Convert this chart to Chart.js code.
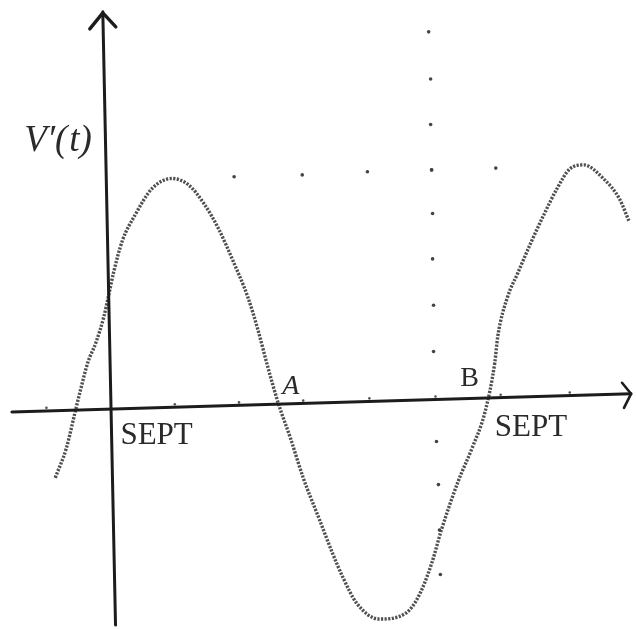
<!DOCTYPE html>
<html>
<head>
<meta charset="utf-8">
<script src="https://cdn.jsdelivr.net/npm/chart.js@4"></script>
<style>
  html, body { margin: 0; padding: 0; background: #fff; }
  #wrap { width: 636px; height: 629px; }
</style>
</head>
<body>
<div id="wrap"><canvas id="rateChart" width="636" height="629"></canvas></div>
<script>
// V'(t): months after September (x) against rate of change (y)
const curveMonths = [-1.67, -1.33, -1.06, -0.91, -0.67, -0.42, -0.18, -0.03, 0.12, 0.39, 0.79, 1.30,
    1.91, 2.42, 2.91, 3.33, 3.82, 4.24, 4.55, 4.85, 5.18, 5.55, 5.94, 6.45, 6.85, 7.15, 7.58,
    8.27, 9.09, 9.48, 9.88, 10.18, 10.70, 11.12, 11.52, 11.82, 11.91, 12.21, 12.52, 12.91,
    13.33, 13.73, 14.12, 14.55, 15.15, 15.64, 15.94];
const curveValues = [-1.52, -0.87, -0.07, 0.37, 1.02, 1.46, 2.02, 2.50, 3.00, 3.70, 4.28, 4.85,
    5.07, 4.93, 4.50, 3.98, 3.20, 2.46, 1.74, 0.93, 0.11, -0.65, -1.52, -2.46, -3.20, -3.70, -4.28,
    -4.63, -4.50, -4.13, -3.41, -2.67, -1.59, -0.87, -0.07, 1.02, 1.59, 2.46, 2.98, 3.63,
    4.28, 4.85, 5.28, 5.37, 5.07, 4.63, 4.13];

// dotted guide across the top at the peak level
const guideRowMonths = [3.82, 5.91, 7.91, 9.88, 11.85];
const guideRowValues = [5.11, 5.15, 5.22, 5.26, 5.30];
// dotted guide running down through month 10
const guideColMonths = [9.79, 9.85, 9.85, 9.88, 9.91, 9.91, 9.94, 9.94, 10.03, 10.09, 10.12, 10.15];
const guideColValues = [8.30, 7.26, 6.26, 5.26, 4.30, 3.30, 2.28, 1.26, -0.72, -1.67, -2.67, -3.65];
// small tick marks sitting on the time axis
const tickMonths = [-1.94, 2.0, 3.97, 5.94, 7.97, 10.0, 12.0, 14.12];
const tickValues = [0.02, 0.10, 0.14, 0.18, 0.23, 0.27, 0.31, 0.36];

const toPoints = (xs, ys) => xs.map((x, i) => ({ x: x, y: ys[i] }));

const ink = '#1c1c1c';
const serif = '"Liberation Serif", "DejaVu Serif", serif';

// hand-drawn looking axes with arrow heads, plus the text labels
const sketchAxes = {
    id: 'sketchAxes',
    afterDatasetsDraw(chart) {
        const { ctx, scales: { x, y } } = chart;
        const px = v => x.getPixelForValue(v);
        const py = v => y.getPixelForValue(v);
        ctx.save();
        ctx.strokeStyle = ink;
        ctx.lineCap = 'round';
        ctx.lineJoin = 'round';

        // time axis
        ctx.lineWidth = 3;
        ctx.beginPath();
        ctx.moveTo(px(-3.0), py(-0.07));
        ctx.lineTo(px(16.0), py(0.33));
        ctx.stroke();
        // arrow head on the right
        const tx = px(16.0), ty = py(0.33);
        ctx.lineWidth = 2.6;
        ctx.beginPath();
        ctx.moveTo(tx - 9, ty - 11);
        ctx.lineTo(tx, ty);
        ctx.lineTo(tx - 7, ty + 14);
        ctx.stroke();

        // value axis
        ctx.lineWidth = 3;
        ctx.beginPath();
        ctx.moveTo(px(0.18), py(-4.76));
        ctx.lineTo(px(-0.21), py(8.74));
        ctx.stroke();
        const ax = px(-0.21), ay = py(8.74);
        ctx.lineWidth = 3.4;
        ctx.beginPath();
        ctx.moveTo(ax - 13, ay + 17);
        ctx.lineTo(ax, ay + 1);
        ctx.lineTo(ax + 13, ay + 15);
        ctx.stroke();

        // labels
        ctx.fillStyle = '#2a2a2a';
        ctx.textBaseline = 'alphabetic';
        ctx.font = 'italic 37px ' + serif;
        ctx.fillText('V\u2032(', px(-2.62), py(5.68));
        const vw = ctx.measureText('V\u2032(').width;
        ctx.fillText('t)', px(-2.62) + vw + 2, py(5.68));
        ctx.font = '31px ' + serif;
        ctx.fillText('SEPT', px(0.33), py(-0.78));
        ctx.fillText('SEPT', px(11.82), py(-0.6));
        ctx.font = 'italic 28px ' + serif;
        ctx.fillText('A', px(5.3), py(0.33));
        ctx.font = '28px ' + serif;
        ctx.fillText('B', px(10.76), py(0.5));
        ctx.restore();
    }
};

new Chart(document.getElementById('rateChart'), {
    type: 'scatter',
    data: {
        datasets: [
            {
                label: "V'(t)",
                data: toPoints(curveMonths, curveValues),
                showLine: true,
                borderColor: 'rgba(60, 60, 60, 0.9)',
                borderWidth: 3.4,
                borderDash: [2.2, 1.4],
                cubicInterpolationMode: 'monotone',
                pointRadius: 0
            },
            {
                label: 'guides',
                data: toPoints(guideRowMonths, guideRowValues).concat(toPoints(guideColMonths, guideColValues)),
                backgroundColor: '#444',
                borderWidth: 0,
                pointRadius: 1.8
            },
            {
                label: 'ticks',
                data: toPoints(tickMonths, tickValues),
                backgroundColor: '#555',
                borderWidth: 0,
                pointRadius: 1.3
            }
        ]
    },
    options: {
        responsive: false,
        animation: false,
        layout: { padding: 0 },
        plugins: { legend: { display: false }, tooltip: { enabled: false } },
        scales: {
            x: { type: 'linear', min: -3.2424, max: 16.0303, display: false },
            y: { type: 'linear', min: -4.761, max: 8.913, display: false }
        }
    },
    plugins: [sketchAxes]
});
</script>
</body>
</html>
